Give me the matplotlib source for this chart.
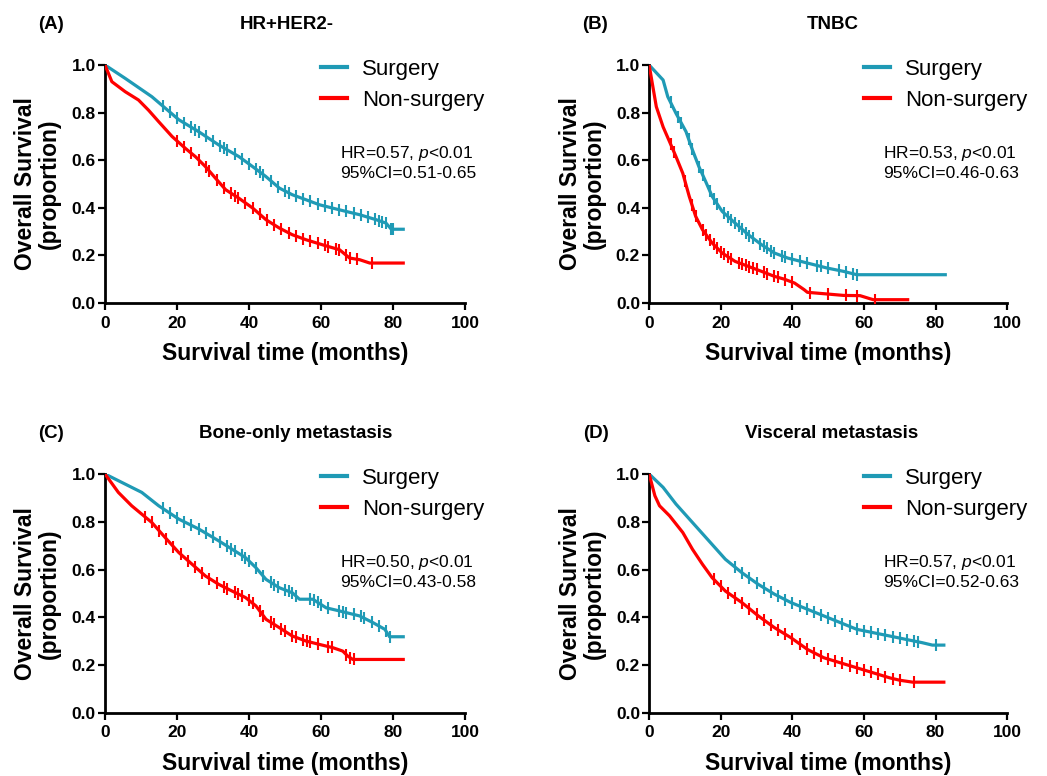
import numpy as np
import matplotlib
matplotlib.use("Agg")
import matplotlib.pyplot as plt
from matplotlib.lines import Line2D

plt.rcParams['font.family'] = ['Liberation Sans', 'DejaVu Sans']
plt.rcParams['mathtext.fontset'] = 'custom'
plt.rcParams['mathtext.rm'] = 'Liberation Sans'
plt.rcParams['mathtext.it'] = 'Liberation Sans:italic'

SURG_COLOR = "#1f9ab5"
NON_COLOR = "#ff0000"

panel_tags = ["(A)", "(B)", "(C)", "(D)"]
panel_titles = ["HR+HER2-", "TNBC", "Bone-only metastasis", "Visceral metastasis"]
hr_text = ["HR=0.57, $\\mathit{p}$<0.01", "HR=0.53, $\\mathit{p}$<0.01",
           "HR=0.50, $\\mathit{p}$<0.01", "HR=0.57, $\\mathit{p}$<0.01"]
ci_text = ["95%CI=0.51-0.65", "95%CI=0.46-0.63", "95%CI=0.43-0.58", "95%CI=0.52-0.63"]

# (A) HR+HER2-
a_surg_t = [0, 5.6, 13, 20.5, 26, 31.6, 37.2, 41, 44.7, 48.4, 52, 55.8, 59.5, 65, 70.7, 75.3, 78, 79.5, 82.8]
a_surg_s = [1.0, 0.944, 0.867, 0.77, 0.72, 0.664, 0.615, 0.573, 0.531, 0.483, 0.455, 0.434, 0.413, 0.392, 0.371, 0.35, 0.336, 0.31, 0.31]
a_non_t = [0, 1.9, 5.6, 9.3, 12.1, 14.9, 18.6, 22.3, 25.1, 27.9, 30.7, 33.5, 37.2, 41, 44.7, 48.4, 52, 55.8, 61.4, 65.1, 67.9, 70.7, 73.5, 82.8]
a_non_s = [1.0, 0.93, 0.888, 0.853, 0.81, 0.762, 0.70, 0.65, 0.615, 0.573, 0.524, 0.476, 0.44, 0.399, 0.35, 0.315, 0.287, 0.266, 0.24, 0.224, 0.189, 0.182, 0.168, 0.168]
a_surg_cens = [16, 18, 20, 22, 24, 25, 26, 28, 30, 32, 33, 34, 36, 38, 40, 42, 43, 44, 46, 48, 50, 51, 53, 55, 57, 59, 61, 63, 65, 67, 69, 71, 73, 75, 76, 77, 78, 79.5, 80]
a_non_cens = [20, 22, 24, 26, 28, 29, 31, 33, 35, 36, 37, 39, 41, 43, 45, 47, 49, 51, 53, 55, 57, 59, 61, 62, 64, 65, 67, 68, 70, 74]

# (B) TNBC
b_surg_t = [0, 3.9, 5.2, 7.5, 10.3, 12.1, 13.9, 15.8, 17.6, 20.4, 24, 27.7, 31.4, 35, 38.7, 44.2, 49.7, 54.3, 58, 82.7]
b_surg_s = [1.0, 0.937, 0.867, 0.797, 0.72, 0.643, 0.573, 0.51, 0.448, 0.385, 0.336, 0.287, 0.245, 0.21, 0.189, 0.168, 0.147, 0.133, 0.119, 0.119]
b_non_t = [0, 2, 3.9, 5.7, 7.5, 9.4, 11.2, 13, 14.9, 17.6, 20.4, 24, 27.7, 31.4, 35, 37.8, 40.6, 43.3, 44.2, 49.7, 54.3, 58.9, 61.7, 62.6, 72.2]
b_non_s = [1.0, 0.825, 0.74, 0.678, 0.615, 0.545, 0.448, 0.364, 0.308, 0.252, 0.21, 0.175, 0.154, 0.133, 0.112, 0.10, 0.084, 0.056, 0.045, 0.038, 0.032, 0.031, 0.018, 0.014, 0.014]
b_surg_cens = [6, 8, 9, 11, 12, 14, 15, 17, 18, 19, 21, 22, 23, 24, 25, 26, 27, 28, 29, 31, 32, 33, 34, 35, 37, 38, 40, 42, 44, 47, 48, 50, 53, 55, 57, 58]
b_non_cens = [6, 7, 10, 12, 13, 15, 16, 17, 18, 19, 20, 21, 22, 23, 25, 26, 27, 28, 29, 30, 32, 33, 35, 36, 38, 40, 45, 50, 55, 58, 63]

# (C) Bone-only metastasis
c_surg_t = [0, 3.7, 10.2, 14.9, 20.5, 26, 31.6, 35.3, 39, 41.9, 44.7, 48.4, 52, 54, 57.7, 61.4, 65.1, 70.7, 74.4, 77.7, 79, 82.8]
c_surg_s = [1.0, 0.972, 0.923, 0.867, 0.811, 0.77, 0.72, 0.685, 0.65, 0.608, 0.559, 0.524, 0.503, 0.476, 0.476, 0.44, 0.427, 0.406, 0.378, 0.35, 0.319, 0.319]
c_non_t = [0, 3.7, 7.4, 10.2, 13, 16.7, 20.5, 24.2, 27.9, 31.6, 35.3, 39, 41.9, 44.7, 48.4, 52, 55.8, 59.5, 63.3, 66, 67.4, 68.8, 82.8]
c_non_s = [1.0, 0.923, 0.867, 0.832, 0.797, 0.734, 0.671, 0.622, 0.573, 0.538, 0.51, 0.483, 0.448, 0.392, 0.357, 0.322, 0.301, 0.287, 0.273, 0.259, 0.238, 0.224, 0.224]
c_surg_cens = [16, 18, 20, 22, 24, 26, 28, 30, 32, 34, 35, 36, 38, 39, 40, 42, 44, 46, 47, 48, 50, 51, 52, 53, 57, 58, 59, 60, 62, 65, 66, 67, 69, 71, 72, 74, 76, 78, 79]
c_non_cens = [11, 13, 15, 17, 19, 21, 23, 25, 27, 29, 31, 33, 34, 36, 37, 38, 40, 41, 43, 44, 46, 47, 49, 50, 52, 53, 55, 56, 57, 59, 62, 63, 67, 68, 69]

# (D) Visceral metastasis
d_surg_t = [0, 3.9, 7.5, 12.1, 16.7, 21.3, 25.9, 30.5, 35, 39.6, 44.2, 48.8, 53.4, 58, 62.6, 67.2, 71.7, 76.3, 79.1, 82.3]
d_surg_s = [1.0, 0.944, 0.874, 0.797, 0.72, 0.643, 0.587, 0.538, 0.497, 0.462, 0.434, 0.406, 0.378, 0.35, 0.336, 0.322, 0.308, 0.294, 0.284, 0.284]
d_non_t = [0, 1.6, 2.9, 5.7, 9.4, 12.1, 14.9, 17.6, 21.3, 25.9, 30.5, 35, 39.6, 44.2, 48.8, 53.4, 58, 62.6, 67.2, 70, 73.6, 82.3]
d_non_s = [1.0, 0.909, 0.867, 0.825, 0.755, 0.685, 0.622, 0.566, 0.51, 0.462, 0.406, 0.357, 0.315, 0.266, 0.231, 0.21, 0.189, 0.168, 0.147, 0.137, 0.129, 0.129]
d_surg_cens = [24, 26, 28, 30, 32, 34, 36, 38, 40, 42, 44, 46, 48, 50, 52, 54, 56, 58, 60, 62, 64, 66, 68, 70, 72, 74, 75, 80]
d_non_cens = [18, 20, 22, 24, 26, 28, 30, 32, 34, 36, 38, 40, 42, 44, 46, 48, 50, 52, 54, 56, 58, 60, 62, 64, 66, 68, 70, 74]

panels = [
    (a_surg_t, a_surg_s, a_surg_cens, a_non_t, a_non_s, a_non_cens),
    (b_surg_t, b_surg_s, b_surg_cens, b_non_t, b_non_s, b_non_cens),
    (c_surg_t, c_surg_s, c_surg_cens, c_non_t, c_non_s, c_non_cens),
    (d_surg_t, d_surg_s, d_surg_cens, d_non_t, d_non_s, d_non_cens),
]

# axes rectangles in figure fractions (left, bottom, width, height)
rects = [(0.1003, 0.6095, 0.344, 0.3067), (0.620, 0.6095, 0.342, 0.3067),
         (0.1003, 0.0812, 0.344, 0.308), (0.620, 0.0812, 0.342, 0.308)]
tag_pos = [(0.036, 0.968), (0.556, 0.968), (0.036, 0.441), (0.557, 0.441)]
title_x = [0.274, 0.795, 0.282, 0.794]

fig = plt.figure(figsize=(10.47, 7.76), dpi=100)

for i, (st, ss, sc, nt, ns, nc) in enumerate(panels):
    ax = fig.add_axes(rects[i])
    ax.plot(st, ss, color=SURG_COLOR, lw=2.3, zorder=3)
    ax.plot(nt, ns, color=NON_COLOR, lw=2.3, zorder=3)
    ax.plot(sc, np.interp(sc, st, ss), ls='none', marker='|', ms=8, mew=1.5,
            color=SURG_COLOR, zorder=3)
    ax.plot(nc, np.interp(nc, nt, ns), ls='none', marker='|', ms=8, mew=1.5,
            color=NON_COLOR, zorder=3)

    ax.set_xlim(0, 100)
    ax.set_ylim(0, 1.0)
    ax.set_xticks(np.arange(0, 101, 20))
    ax.set_yticks(np.arange(0, 1.01, 0.2))
    ax.set_yticklabels([f"{v:.1f}" for v in np.arange(0, 1.01, 0.2)])
    for s in ['top', 'right']:
        ax.spines[s].set_visible(False)
    for s in ['left', 'bottom']:
        ax.spines[s].set_linewidth(2.0)
    ax.tick_params(direction='out', length=5, width=1.6, labelsize=12.5, pad=1.5)
    ax.tick_params(axis='x', pad=4)
    for lab in ax.get_xticklabels() + ax.get_yticklabels():
        lab.set_fontweight('bold')

    ax.set_xlabel("Survival time (months)", fontsize=16.5, fontweight='bold')
    ax.set_ylabel("Overall Survival\n(proportion)", fontsize=16.5, fontweight='bold',
                  linespacing=1.05)
    ax.xaxis.label.set_va('center')
    ax.xaxis.set_label_coords(0.5, -0.21)
    ax.yaxis.label.set_va('center')
    ax.yaxis.set_label_coords(-0.187, 0.5)

    handles = [Line2D([], [], color=SURG_COLOR, lw=3), Line2D([], [], color=NON_COLOR, lw=3)]
    ax.legend(handles, ["Surgery", "Non-surgery"], loc='upper left',
              bbox_to_anchor=(0.6, 1.025), frameon=False, fontsize=16,
              handlelength=1.15, handletextpad=0.7, labelspacing=0.45,
              borderpad=0, borderaxespad=0)

    ax.text(0.653, 0.63, hr_text[i], transform=ax.transAxes, fontsize=12.5, va='center')
    ax.text(0.653, 0.546, ci_text[i], transform=ax.transAxes, fontsize=12.5, va='center')

    fig.text(tag_pos[i][0], tag_pos[i][1], panel_tags[i], fontsize=13.5,
             fontweight='bold', va='center')
    fig.text(title_x[i], tag_pos[i][1], panel_titles[i], fontsize=13.5,
             fontweight='bold', va='center', ha='center')

fig.savefig("out.png", dpi=100)
